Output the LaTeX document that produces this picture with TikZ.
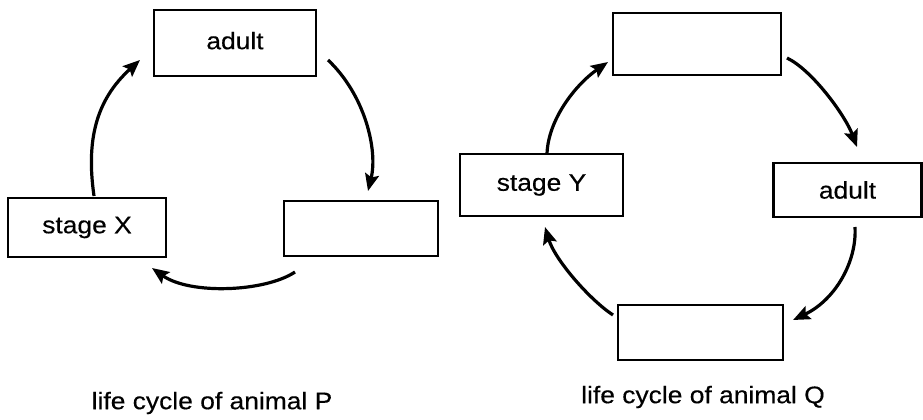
\documentclass[tikz,border=0pt]{standalone}
\usepackage{fontspec}
\setmainfont{Liberation Sans}[FakeStretch=1.1,FakeBold=0.4]
\usetikzlibrary{arrows.meta}
\begin{document}
\begin{tikzpicture}[x=1pt,y=-1pt,
  box/.style={draw,line width=2.8pt,inner sep=0pt,outer sep=0pt,font=\fontsize{24}{28}\selectfont},
  cyc/.style={line width=3.2pt,-{Stealth[length=17pt,width=14pt,inset=3pt]}},
  captext/.style={font=\fontsize{24}{28}\selectfont}]
\useasboundingbox (0,0) rectangle (923,420);
% animal P
\node[box,minimum width=162pt,minimum height=66pt] (pa) at (235,43) {\raisebox{5pt}{adult}};
\node[box,minimum width=158pt,minimum height=59pt] (px) at (87,227.5) {stage X};
\node[box,minimum width=154pt,minimum height=55pt] (pr) at (361,228.5) {};
\node[captext] (pcap) at (212,403) {life cycle of animal P};
\draw[cyc] ([shift={(12,17)}]pa.east) .. controls (365,95) and (378,150) .. ([shift={(7,-10)}]pr.north);
\draw[cyc] ([shift={(-66,16)}]pr.south) .. controls (265,292) and (190,295) .. ([shift={(-14,11)}]px.south east);
\draw[cyc] ([shift={(7,-2)}]px.north) .. controls (86,140) and (96,100) .. ([shift={(-14,-16)}]pa.south west);
% animal Q
\node[box,minimum width=168pt,minimum height=62pt] (qt) at (697,44) {};
\node[box,minimum width=148pt,minimum height=54pt] (qa) at (847.5,190) {adult};
\node[box,minimum width=163pt,minimum height=62pt] (qy) at (541.5,185) {stage Y};
\node[box,minimum width=165pt,minimum height=55pt] (qb) at (700.5,332.5) {};
\node[captext] (qcap) at (703,397) {life cycle of animal Q};
\draw[cyc] ([shift={(6,14)}]qt.east) .. controls (812,70) and (845,115) .. ([shift={(9.5,-16)}]qa.north);
\draw[cyc] ([shift={(7.5,10)}]qa.south) .. controls (857,262) and (835,300) .. ([shift={(10,15)}]qb.north east);
\draw[cyc] ([shift={(-5,10)}]qb.north west) .. controls (590,300) and (555,260) .. ([shift={(3.5,11)}]qy.south);
\draw[cyc] ([shift={(5.5,0)}]qy.north) .. controls (548,120) and (575,85) .. ([shift={(-5,18)}]qt.west);
\end{tikzpicture}
\end{document}
